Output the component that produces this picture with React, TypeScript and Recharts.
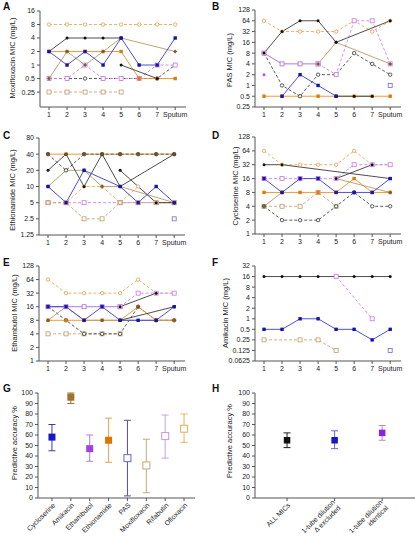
import React from "react";
import { LineChart, Line, XAxis, YAxis, ScatterChart, Scatter, ErrorBar } from "recharts";

const FONT = "'Liberation Sans', Arial, sans-serif";
const AXIS = "#555";
const TEXT = "#222";

// sampling positions along the lung, plus sputum
const POSITIONS = [1, 2, 3, 4, 5, 6, 7, 8];
const POSITION_LABELS = ["1", "2", "3", "4", "5", "6", "7", "Sputum"];

const MOXI_TICKS = [0.25, 0.5, 1, 2, 4, 8, 16];
const PAS_TICKS = [0.25, 0.5, 1, 2, 4, 8, 16, 32, 64, 128];
const ETO_TICKS = [1.25, 2.5, 5, 10, 20, 40, 80];
const CS_TICKS = [1, 2, 4, 8, 16, 32, 64, 128];
const EMB_TICKS = [1, 2, 4, 8, 16, 32, 64, 128];
const AMK_TICKS = [0.0625, 0.125, 0.25, 0.5, 1, 2, 4, 8, 16, 32];

type Row = [string, (number | null)[]];

const moxifloxacin: Row[] = [
  ["orangeDash", [8, 8, 8, 8, 8, 8, 8, 8]],
  ["tanDash", [0.25, 0.25, 0.25, 0.25, 0.25, null, null, null]],
  ["blackDash", [0.5, 0.5, 0.5, 0.5, 0.5, 0.5, 0.5, 1]],
  ["purpleDash", [0.5, 0.5, 1, 0.5, 0.5, 0.5, 1, 1]],
  ["orange", [2, 2, 2, 2, 2, 0.5, 0.5, 0.5]],
  ["tan", [0.5, 2, 1, 2, 4, null, null, 2]],
  ["black", [2, 4, 4, 4, 4, null, null, null]],
  ["black", [null, null, null, null, 1, null, 0.5, null]],
  ["blue", [2, 1, 2, 1, 4, 1, 1, 4]],
];

const pas: Row[] = [
  ["orange", [0.5, 0.5, 0.5, 0.5, 0.5, 0.5, 0.5, 0.5]],
  ["orangeDash", [64, 32, 32, 32, 32, 64, 32, 64]],
  ["blackDash", [8, 1, 0.5, 2, 2, 8, 4, 2]],
  ["purple", [8, 4, 4, 4, null, null, null, null]],
  ["purpleDash", [null, null, null, 4, 2, 64, 64, 4]],
  ["tan", [null, null, null, 4, 16, null, null, 4]],
  ["black", [8, 32, 64, 64, 16, null, null, 64]],
  ["black", [null, null, null, null, 0.5, 0.5, 0.5, null]],
  ["blue", [null, 0.5, 2, 1, 0.5, null, null, null]],
  ["blueOpen", [null, null, null, null, null, null, null, 1]],
  ["purpleDot", [2, null, null, null, null, null, null, null]],
];

const ethionamide: Row[] = [
  ["orange", [40, 40, 40, 40, 40, 40, 40, 40]],
  ["purpleDash", [5, 5, 5, null, 5, 5, 5, 5]],
  ["tanDash", [5, 5, 2.5, 2.5, 5, 5, 5, 5]],
  ["orangeDash", [5, 5, 10, 10, 5, 10, 5, 5]],
  ["tan", [10, 20, 20, 10, 10, null, null, 5]],
  ["blackDash", [40, 20, 40, 40, 40, 40, 40, 40]],
  ["black", [20, 40, 10, 40, 10, null, null, 40]],
  ["black", [null, null, null, null, 20, null, 5, 5]],
  ["blue", [10, 5, 20, null, 10, 5, 10, 5]],
  ["tanTop", [40, 40, 40, 40, 40, 40, 40, 40]],
  ["blueOpen", [null, null, null, null, null, null, null, 2.5]],
];

const cycloserine: Row[] = [
  ["orangeDash", [64, 32, 32, 32, 32, 64, 32, 32]],
  ["tanDash", [4, 4, 4, 8, 4, null, null, null]],
  ["blackDash", [4, 2, 2, 2, 4, 8, 4, 4]],
  ["orange", [8, 8, 8, 8, 8, 16, 8, 8]],
  ["tan", [4, 8, null, null, null, null, null, null]],
  ["tan", [null, null, null, null, 16, null, null, 8]],
  ["purpleDash", [16, 16, 16, 16, 16, 32, 32, 32]],
  ["black", [32, 32, null, null, null, null, null, 16]],
  ["black", [null, null, null, null, 16, null, 32, null]],
  ["blue", [16, 8, 16, 16, 8, 8, 8, 16]],
];

const ethambutol: Row[] = [
  ["orangeDash", [64, 32, 32, 32, 32, 64, 32, 32]],
  ["tanDash", [4, 4, 4, 4, 4, null, null, null]],
  ["blackDash", [16, 8, 4, 4, 4, 16, 8, 8]],
  ["orange", [8, 8, 8, 8, 8, 16, 8, 8]],
  ["tan", [8, 16, 8, 8, 8, null, null, 8]],
  ["purple", [16, 16, 16, 16, 16, null, null, null]],
  ["purpleDash", [null, null, null, null, 16, 32, 32, 32]],
  ["black", [null, null, null, null, 16, null, 32, null]],
  ["black", [null, null, null, null, 8, null, null, 16]],
  ["blue", [16, 16, 8, 16, 8, 8, 8, 16]],
  ["tanTop", [null, null, null, null, null, 16, null, null]],
];

const amikacin: Row[] = [
  ["black", [16, 16, 16, 16, 16, 16, 16, 16]],
  ["purpleDash", [null, null, null, null, 16, null, 1, null]],
  ["tanDash", [0.25, null, 0.25, 0.25, 0.125, null, null, null]],
  ["blue", [0.5, 0.5, 1, 1, 0.5, 0.5, 0.25, 0.5]],
  ["blueOpen", [null, null, null, null, null, null, null, 0.125]],
];

// panel G
const DRUGS = ["Cycloserine", "Amikacin", "Ethambutol", "Ethionamide", "PAS", "Moxifloxacin", "Rifabutin", "Ofloxacin"];
const DRUG_ACCURACY = [58, 96, 47, 55, 38, 31, 59, 66];
const DRUG_LOW = [45, 90, 35, 34, 2, 5, 38, 53];
const DRUG_HIGH = [70, 100, 60, 76, 74, 56, 79, 80];

// panel H
const GROUPS = [["ALL MICs"], ["1-tube dilution", "\u0394 excluded"], ["1-tube dilution", "identical"]];
const GROUP_ACCURACY = [55, 55, 62];
const GROUP_LOW = [48, 47, 55];
const GROUP_HIGH = [62, 64, 69];

const PCT_TICKS = [0, 10, 20, 30, 40, 50, 60, 70, 80, 90, 100];

const STYLES: Record<string, { stroke: string; dash?: string; marker: string; color: string }> = {
  black: { stroke: "#3a3a3a", marker: "circle", color: "#111" },
  blue: { stroke: "#3b3bd0", marker: "square", color: "#1414a8" },
  orange: { stroke: "#ec8f24", marker: "square", color: "#e07812" },
  tan: { stroke: "#b89a68", marker: "diamond", color: "#7d5a30" },
  tanTop: { stroke: "none", marker: "diamond", color: "#6e5030" },
  purple: { stroke: "#a56ad8", marker: "openSquare", color: "#a56ad8" },
  orangeDash: { stroke: "#eaa85a", dash: "3 2", marker: "openCircle", color: "#e0a050" },
  purpleDash: { stroke: "#cf84ec", dash: "3 2", marker: "openSquare", color: "#c77ae6" },
  blackDash: { stroke: "#4a4a4a", dash: "3 2", marker: "openCircle", color: "#333" },
  tanDash: { stroke: "#c9a878", dash: "3 2", marker: "openSquare", color: "#c09a68" },
  blueOpen: { stroke: "none", marker: "openSquare", color: "#6b6bd6" },
  purpleDot: { stroke: "none", marker: "circle", color: "#c44ce0" },
};

const DRUG_COLORS = [
  { fill: "#1616c8", bar: "#3a3aa8", open: false },
  { fill: "#a0702e", bar: "#a0702e", open: false },
  { fill: "#a43ee0", bar: "#b479e0", open: false },
  { fill: "#e07400", bar: "#e4a458", open: false },
  { fill: "#7272d6", bar: "#5a4c94", open: true },
  { fill: "#c8b080", bar: "#c2aa78", open: true },
  { fill: "#c8a0ea", bar: "#c8a0ea", open: true },
  { fill: "#e6b462", bar: "#e6b462", open: true },
];
const GROUP_COLORS = [
  { fill: "#111", bar: "#222", open: false },
  { fill: "#1616c8", bar: "#6a6ac8", open: false },
  { fill: "#8a22e6", bar: "#b78ad8", open: false },
];

function Marker({ cx, cy, kind, color }: { cx: number; cy: number; kind: string; color: string }) {
  if (kind === "circle") return <circle cx={cx} cy={cy} r={1.5} fill={color} />;
  if (kind === "square") return <rect x={cx - 1.7} y={cy - 1.7} width={3.4} height={3.4} fill={color} />;
  if (kind === "diamond")
    return <path d={`M${cx} ${cy - 2}L${cx + 2} ${cy}L${cx} ${cy + 2}L${cx - 2} ${cy}Z`} fill={color} />;
  if (kind === "openSquare")
    return <rect x={cx - 2} y={cy - 2} width={4} height={4} fill="#fff" stroke={color} strokeWidth={0.8} />;
  return <circle cx={cx} cy={cy} r={1.7} fill="#fff" stroke={color} strokeWidth={0.8} />;
}

function MicPanel(props: {
  rows: Row[];
  left: number;
  top: number;
  width: number;
  height: number;
  yWidth: number;
  marginTop: number;
  marginRight: number;
  xHeight: number;
  domain: [number, number];
  ticks: number[];
}) {
  const { rows } = props;
  const data = POSITIONS.map((p, i) => {
    const row: Record<string, number | null> = { pos: p };
    rows.forEach(([, vals], j) => {
      row[`s${j}`] = vals[i];
    });
    return row;
  });
  return (
    <div style={{ position: "absolute", left: props.left, top: props.top }}>
      <LineChart
        width={props.width}
        height={props.height}
        data={data}
        margin={{ top: props.marginTop, right: props.marginRight, left: 0, bottom: 0 }}
      >
        <XAxis
          dataKey="pos"
          type="number"
          domain={[0.5, 8.6]}
          ticks={POSITIONS}
          interval={0}
          allowDataOverflow
          height={props.xHeight}
          tickSize={3}
          axisLine={{ stroke: AXIS }}
          tickLine={{ stroke: AXIS }}
          tick={{ fontSize: 7, fill: TEXT, fontFamily: FONT }}
          tickFormatter={(v: number) => POSITION_LABELS[v - 1]}
        />
        <YAxis
          type="number"
          scale="log"
          domain={props.domain}
          ticks={props.ticks}
          interval={0}
          allowDataOverflow
          width={props.yWidth}
          tickSize={3}
          axisLine={{ stroke: AXIS }}
          tickLine={{ stroke: AXIS }}
          tick={{ fontSize: 7, fill: TEXT, fontFamily: FONT }}
          tickFormatter={(v: number) => String(v)}
        />
        {rows.map(([styleKey], j) => {
          const s = STYLES[styleKey];
          return (
            <Line
              key={j}
              dataKey={`s${j}`}
              stroke={s.stroke}
              strokeDasharray={s.dash}
              strokeWidth={0.9}
              connectNulls
              isAnimationActive={false}
              activeDot={false}
              dot={(p: any) => {
                const k = `d${j}-${p.index}`;
                if (p.value == null || p.cy == null || !isFinite(p.cy)) return <g key={k} />;
                return (
                  <g key={k}>
                    <Marker cx={p.cx} cy={p.cy} kind={s.marker} color={s.color} />
                  </g>
                );
              }}
            />
          );
        })}
      </LineChart>
    </div>
  );
}

function RotTick({ x, y, payload, lines }: any) {
  const ls: string[] = lines[payload.value - 1] || [];
  const ax = x + 2;
  const ay = y + 1;
  return (
    <text
      x={ax}
      y={ay}
      transform={`rotate(-45 ${ax} ${ay})`}
      textAnchor="end"
      fontSize={7}
      fill={TEXT}
      fontFamily={FONT}
    >
      {ls.map((l, i) => (
        <tspan key={i} x={ax} dy={i === 0 ? (ls.length > 1 ? "-0.25em" : "0.35em") : "1.15em"}>
          {l}
        </tspan>
      ))}
    </text>
  );
}

function AccuracyPanel(props: {
  left: number;
  top: number;
  width: number;
  height: number;
  yWidth: number;
  marginRight: number;
  xDomain: [number, number];
  labels: string[][];
  acc: number[];
  low: number[];
  high: number[];
  colors: { fill: string; bar: string; open: boolean }[];
  size: number;
}) {
  const idx = props.acc.map((_, i) => i + 1);
  return (
    <div style={{ position: "absolute", left: props.left, top: props.top }}>
      <ScatterChart
        width={props.width}
        height={props.height}
        margin={{ top: 8, right: props.marginRight, left: 0, bottom: 0 }}
      >
        <XAxis
          dataKey="x"
          type="number"
          domain={props.xDomain}
          ticks={idx}
          interval={0}
          allowDataOverflow
          height={props.height - 8 - 105}
          tickSize={3}
          axisLine={{ stroke: AXIS }}
          tickLine={{ stroke: AXIS }}
          tick={<RotTick lines={props.labels} />}
        />
        <YAxis
          dataKey="y"
          type="number"
          domain={[0, 100]}
          ticks={PCT_TICKS}
          interval={0}
          allowDataOverflow
          width={props.yWidth}
          tickSize={3}
          axisLine={{ stroke: AXIS }}
          tickLine={{ stroke: AXIS }}
          tick={{ fontSize: 7, fill: TEXT, fontFamily: FONT }}
        />
        {props.acc.map((a, i) => {
          const c = props.colors[i];
          const sz = props.size;
          return (
            <Scatter
              key={i}
              data={[{ x: i + 1, y: a, err: [a - props.low[i], props.high[i] - a] }]}
              isAnimationActive={false}
              shape={(p: any) => (
                <rect
                  x={p.cx - sz / 2}
                  y={p.cy - sz / 2}
                  width={sz}
                  height={sz}
                  fill={c.open ? "#fff" : c.fill}
                  stroke={c.fill}
                  strokeWidth={c.open ? 1.1 : 0}
                />
              )}
            >
              <ErrorBar dataKey="err" direction="y" width={3.5} stroke={c.bar} strokeWidth={1} />
            </Scatter>
          );
        })}
      </ScatterChart>
    </div>
  );
}

function YLabel({ x, y, text }: { x: number; y: number; text: string }) {
  return (
    <div
      style={{
        position: "absolute",
        left: x,
        top: y,
        transform: "translate(-50%, -50%) rotate(-90deg)",
        fontSize: 7.5,
        whiteSpace: "nowrap",
        color: TEXT,
        fontFamily: FONT,
        lineHeight: 1,
      }}
    >
      {text}
    </div>
  );
}

function Letter({ x, y, text }: { x: number; y: number; text: string }) {
  return (
    <div
      style={{
        position: "absolute",
        left: x,
        top: y,
        fontSize: 10,
        fontWeight: "bold",
        fontFamily: FONT,
        color: "#111",
        lineHeight: 1,
      }}
    >
      {text}
    </div>
  );
}

export default function App() {
  return (
    <div
      style={{
        position: "absolute",
        left: 0,
        top: 0,
        width: 415,
        height: 545,
        background: "#fff",
        overflow: "hidden",
        fontFamily: FONT,
      }}
    >
      <MicPanel rows={moxifloxacin} left={0} top={0} width={205} height={125} yWidth={40} marginTop={11} marginRight={19} xHeight={18} domain={[0.116, 16]} ticks={MOXI_TICKS} />
      <MicPanel rows={pas} left={205} top={0} width={210} height={125} yWidth={50} marginTop={10} marginRight={14} xHeight={18} domain={[0.25, 128]} ticks={PAS_TICKS} />
      <MicPanel rows={ethionamide} left={0} top={130} width={205} height={125} yWidth={39} marginTop={8} marginRight={20} xHeight={20} domain={[1.25, 80]} ticks={ETO_TICKS} />
      <MicPanel rows={cycloserine} left={205} top={130} width={210} height={125} yWidth={50} marginTop={7} marginRight={14} xHeight={21} domain={[1, 128]} ticks={CS_TICKS} />
      <MicPanel rows={ethambutol} left={0} top={258} width={205} height={125} yWidth={39} marginTop={8} marginRight={20} xHeight={22} domain={[1, 128]} ticks={EMB_TICKS} />
      <MicPanel rows={amikacin} left={205} top={258} width={210} height={125} yWidth={50} marginTop={8} marginRight={14} xHeight={22} domain={[0.0625, 32]} ticks={AMK_TICKS} />
      <AccuracyPanel
        left={0}
        top={385}
        width={205}
        height={160}
        yWidth={38}
        marginRight={10}
        xDomain={[0.26, 8.58]}
        labels={DRUGS.map((d) => [d])}
        acc={DRUG_ACCURACY}
        low={DRUG_LOW}
        high={DRUG_HIGH}
        colors={DRUG_COLORS}
        size={7}
      />
      <AccuracyPanel
        left={205}
        top={385}
        width={210}
        height={160}
        yWidth={50}
        marginRight={0}
        xDomain={[0.326, 3.69]}
        labels={GROUPS}
        acc={GROUP_ACCURACY}
        low={GROUP_LOW}
        high={GROUP_HIGH}
        colors={GROUP_COLORS}
        size={6.5}
      />
      <YLabel x={13} y={58} text="Moxifloxacin MIC (mg/L)" />
      <YLabel x={230} y={60} text="PAS MIC (mg/L)" />
      <YLabel x={13} y={190} text="Ethionamide MIC (mg/L)" />
      <YLabel x={236} y={186} text="Cycloserine MIC (mg/L)" />
      <YLabel x={15} y={313} text="Ethambutol MIC (mg/L)" />
      <YLabel x={226} y={313} text="Amikacin MIC (mg/L)" />
      <YLabel x={15} y={443} text="Predictive accuracy %" />
      <YLabel x={230} y={441} text="Predictive accuracy %" />
      <Letter x={3} y={2} text="A" />
      <Letter x={212} y={2} text="B" />
      <Letter x={3} y={131} text="C" />
      <Letter x={212} y={131} text="D" />
      <Letter x={3} y={258} text="E" />
      <Letter x={212} y={258} text="F" />
      <Letter x={3} y={384} text="G" />
      <Letter x={212} y={384} text="H" />
    </div>
  );
}
